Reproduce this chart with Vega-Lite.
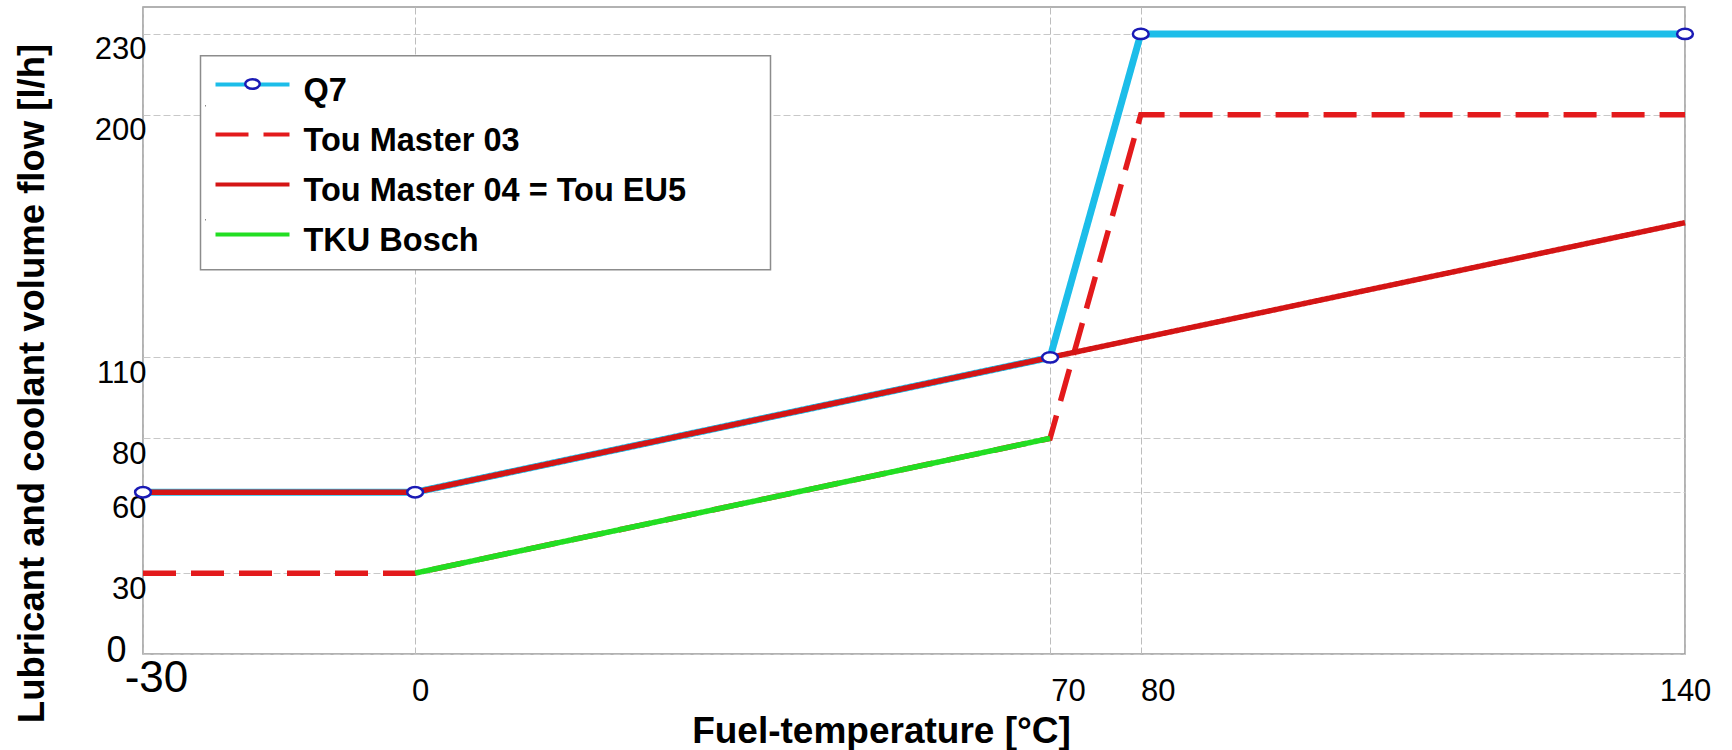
{
  "$schema": "https://vega.github.io/schema/vega-lite/v6.json",
  "autosize": {"type": "none"},
  "padding": {"left": 143, "top": 7, "right": 47, "bottom": 96},
  "width": 1542,
  "height": 647,
  "background": "white",
  "config": {
    "font": "Liberation Sans",
    "view": {"stroke": "#999999", "strokeWidth": 1.5}
  },
  "data": {
    "values": [
      {"series": "Q7", "x": -30, "y": 60},
      {"series": "Q7", "x": 0, "y": 60},
      {"series": "Q7", "x": 70, "y": 110},
      {"series": "Q7", "x": 80, "y": 230},
      {"series": "Q7", "x": 140, "y": 230},
      {"series": "Tou Master 03", "x": -30, "y": 30},
      {"series": "Tou Master 03", "x": 0, "y": 30},
      {"series": "Tou Master 03", "x": 70, "y": 80},
      {"series": "Tou Master 03", "x": 80, "y": 200},
      {"series": "Tou Master 03", "x": 140, "y": 200},
      {"series": "Tou Master 04 = Tou EU5", "x": -30, "y": 60},
      {"series": "Tou Master 04 = Tou EU5", "x": 0, "y": 60},
      {"series": "Tou Master 04 = Tou EU5", "x": 70, "y": 110},
      {"series": "Tou Master 04 = Tou EU5", "x": 140, "y": 160},
      {"series": "TKU Bosch", "x": 0, "y": 30},
      {"series": "TKU Bosch", "x": 70, "y": 80}
    ]
  },
  "encoding": {
    "x": {
      "field": "x", "type": "quantitative",
      "scale": {"domain": [-30, 140], "nice": false, "zero": false},
      "axis": {
        "values": [-30, 0, 70, 80, 140],
        "labelExpr": "datum.value + ''",
        "title": "Fuel-temperature [°C]",
        "titleFont": "Liberation Sans", "titleFontSize": 37, "titleFontWeight": "bold", "titleColor": "black",
        "titleX": 738, "titleY": 88, "titleBaseline": "alphabetic", "titleAlign": "center",
        "grid": true, "gridColor": "#bdbdbd", "gridDash": [7, 3], "gridWidth": 1,
        "ticks": false, "domain": false,
        "labelFont": "Liberation Sans", "labelFontSize": 31, "labelColor": "black",
        "labelPadding": 22, "labelFlush": false, "labelOverlap": false, "labelBound": false,
        "encoding": {"labels": {
          "dx": {"value": {"expr": "datum.value === -30 ? 13 : datum.value === 0 ? 5 : datum.value === 70 ? 18 : datum.value === 80 ? 17 : 0"}},
          "dy": {"value": {"expr": "datum.value === -30 ? -20 : 0"}},
          "fontSize": {"value": {"expr": "datum.value === -30 ? 44 : 31"}}
        }}
      }
    },
    "y": {
      "field": "y", "type": "quantitative",
      "scale": {"domain": [0, 240], "nice": false, "zero": false},
      "axis": {
        "values": [0, 30, 60, 80, 110, 200, 230],
        "title": "Lubricant and coolant volume flow [l/h]",
        "titleFont": "Liberation Sans", "titleFontSize": 36.5, "titleFontWeight": "bold", "titleColor": "black",
        "titleX": -100, "titleY": 376, "titleBaseline": "alphabetic", "titleAlign": "center", "titleAngle": 270,
        "grid": true, "gridColor": "#c8c8c8", "gridDash": [7, 3], "gridWidth": 1,
        "ticks": false, "domain": false,
        "labelFont": "Liberation Sans", "labelFontSize": 31, "labelColor": "black",
        "labelPadding": -3, "labelBaseline": "top", "labelFlush": false, "labelOverlap": false, "labelBound": false,
        "encoding": {"labels": {
          "dx": {"value": {"expr": "datum.value === 0 ? -20 : 0"}},
          "dy": {"value": {"expr": "datum.value === 0 ? -21 : 1"}},
          "fontSize": {"value": {"expr": "datum.value === 0 ? 36 : 31"}}
        }}
      }
    }
  },
  "layer": [
    {
      "transform": [{"filter": "datum.series === 'Q7'"}],
      "mark": {"type": "line", "strokeWidth": 7, "strokeCap": "butt", "strokeJoin": "miter"},
      "encoding": {
        "color": {"field": "series", "type": "nominal",
          "scale": {"domain": ["Q7", "Tou Master 03", "Tou Master 04 = Tou EU5", "TKU Bosch"], "range": ["#1cbde9", "#e31a1c", "#d41515", "#22de22"]},
          "legend": {"orient": "none", "legendX": 58, "legendY": 49, "padding": 12.5, "title": null, "zindex": 2,
            "strokeColor": "transparent", "fillColor": "transparent",
            "symbolType": "stroke", "symbolSize": 5476, "symbolStrokeWidth": 4, "clipHeight": 32, "rowPadding": 11,
            "labelOffset": 12, "labelFont": "Liberation Sans", "labelFontSize": 32.5, "labelFontWeight": "bold", "labelColor": "black", "labelLimit": 900,
            "encoding": {"labels": {"dy": {"value": 6}}}}
        },
        "strokeDash": {"field": "series", "type": "nominal",
          "scale": {"domain": ["Q7", "Tou Master 03", "Tou Master 04 = Tou EU5", "TKU Bosch"], "range": [[1, 0], [33, 15], [1, 0], [1, 0]]},
          "legend": {"orient": "none", "legendX": 58, "legendY": 49, "padding": 12.5, "title": null, "zindex": 2,
            "strokeColor": "transparent", "fillColor": "transparent",
            "symbolType": "stroke", "symbolSize": 5476, "symbolStrokeWidth": 4, "clipHeight": 32, "rowPadding": 11,
            "labelOffset": 12, "labelFont": "Liberation Sans", "labelFontSize": 32.5, "labelFontWeight": "bold", "labelColor": "black", "labelLimit": 900,
            "encoding": {"labels": {"dy": {"value": 6}}}}
        },
        "opacity": {"field": "series", "type": "nominal",
          "scale": {"domain": ["Q7", "Tou Master 03"], "range": [1, 1]},
          "legend": {"orient": "none", "legendX": 57.5, "legendY": 48.7, "padding": 0, "title": null, "zindex": 1,
            "strokeColor": "#8c8c8c", "fillColor": "white",
            "symbolOpacity": 0, "symbolSize": 1, "clipHeight": 100, "rowPadding": 14,
            "labelOffset": 560, "labelExpr": "''", "labelOpacity": 0,
            "encoding": {"legend": {"strokeWidth": {"value": 1.5}}}}
        }
      }
    },
    {
      "transform": [{"filter": "datum.series === 'Tou Master 03'"}],
      "mark": {"type": "line", "strokeWidth": 5.5, "strokeCap": "butt"},
      "encoding": {
        "color": {"field": "series", "type": "nominal"},
        "strokeDash": {"field": "series", "type": "nominal"}
      }
    },
    {
      "transform": [{"filter": "datum.series === 'Tou Master 04 = Tou EU5'"}],
      "mark": {"type": "line", "strokeWidth": 5.5, "strokeCap": "butt"},
      "encoding": {
        "color": {"field": "series", "type": "nominal"},
        "strokeDash": {"field": "series", "type": "nominal"}
      }
    },
    {
      "transform": [{"filter": "datum.series === 'TKU Bosch'"}],
      "mark": {"type": "line", "strokeWidth": 5.5, "strokeCap": "butt"},
      "encoding": {
        "color": {"field": "series", "type": "nominal"},
        "strokeDash": {"field": "series", "type": "nominal"}
      }
    },
    {
      "transform": [{"filter": "datum.series === 'Q7'"}],
      "mark": {"type": "point", "filled": true, "fill": "white", "stroke": "#1a1ab5", "strokeWidth": 2.5, "size": 250, "opacity": 1},
      "encoding": {
        "shape": {"field": "series", "type": "nominal",
          "scale": {"domain": ["Q7"], "range": ["M-1,0A1,0.65,0,1,0,1,0A1,0.65,0,1,0,-1,0Z"]},
          "legend": {"orient": "none", "legendX": 101, "legendY": 61, "padding": 0, "title": null, "zindex": 3,
            "clipHeight": 32, "symbolSize": 210, "symbolFillColor": "white", "symbolStrokeColor": "#1a1ab5", "symbolStrokeWidth": 2.5, "symbolOpacity": 1,
            "labelOpacity": 0, "labelExpr": "''",
            "encoding": {"symbols": {"stroke": {"value": "#1a1ab5"}, "strokeWidth": {"value": 2.5}, "fill": {"value": "white"}, "opacity": {"value": 1}}}}
        }
      }
    }
  ]
}
